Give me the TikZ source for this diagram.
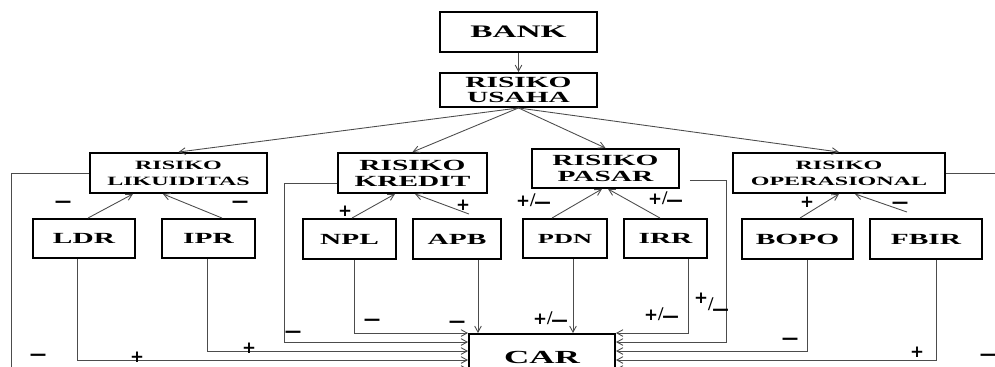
\documentclass[tikz,border=0pt]{standalone}
\usepackage{fontspec}
\setmainfont{Liberation Serif}
\newfontfamily\signfont{DejaVu Sans}
\usepackage{graphicx}
\usepackage{tikz}
\usetikzlibrary{arrows.meta,calc}
\newcommand{\wtxt}[1]{\scalebox{1.9}[1]{#1}}
\newcommand{\mns}{\scalebox{1.5}[1.6]{--}}
\newcommand{\pls}{{\signfont\bfseries\fontsize{9.5}{9.5}\selectfont +}}

\begin{document}
\begin{tikzpicture}[
  x=0.02cm, y=-0.02cm,
  box/.style={rectangle, draw, line width=1.1pt, inner sep=0pt, align=center, minimum height=0.78cm, font=\bfseries\fontsize{8.8}{9}\selectfont},
  smallbox/.style={box, minimum height=0.8cm, font=\bfseries\fontsize{7.2}{9}\selectfont},
  sign/.style={inner sep=0pt, font=\bfseries\fontsize{11}{11}\selectfont},
  arr/.style={-{Straight Barb[length=3.5pt,width=3.8pt]}, line width=0.5pt, black!70}
]
\useasboundingbox (0,0) rectangle (995,367);
\clip (0,0) rectangle (995,367);

% Top
\node[box, minimum width=3.14cm, minimum height=0.8cm, font=\bfseries\fontsize{10}{10}\selectfont] (bank) at (518.5,32) {\wtxt{BANK}};
\node[box, minimum width=3.14cm, minimum height=0.68cm] (usaha) at (518.5,90) {\wtxt{RISIKO}\\\wtxt{USAHA}};

% Risk types
\node[smallbox, minimum width=3.54cm] (lik) at (178.5,173) {\wtxt{RISIKO}\\\wtxt{LIKUIDITAS}};
\node[box, minimum width=2.98cm, minimum height=0.8cm] (kre) at (412.5,173) {\wtxt{RISIKO}\\\wtxt{KREDIT}};
\node[box, minimum width=2.94cm] (pas) at (605.5,168.5) {\wtxt{RISIKO}\\\wtxt{PASAR}};
\node[smallbox, minimum width=4.24cm] (ope) at (839,173) {\wtxt{RISIKO}\\\wtxt{OPERASIONAL}};

% Ratios
\node[box, minimum width=2.04cm] (ldr) at (84,238.5) {\wtxt{LDR}};
\node[box, minimum width=1.86cm] (ipr) at (208.5,238.5) {\wtxt{IPR}};
\node[box, minimum width=1.86cm, minimum height=0.8cm] (npl) at (349.5,239) {\wtxt{NPL}};
\node[box, minimum width=1.76cm, minimum height=0.8cm] (apb) at (457,239) {\wtxt{APB}};
\node[box, minimum width=1.68cm, font=\bfseries\fontsize{7.9}{9}\selectfont] (pdn) at (565,238.5) {\wtxt{PDN}};
\node[box, minimum width=1.66cm] (irr) at (665.5,238.5) {\wtxt{IRR}};
\node[box, minimum width=2.22cm, minimum height=0.8cm] (bopo) at (797.5,239) {\wtxt{BOPO}};
\node[box, minimum width=2.24cm, minimum height=0.8cm] (fbir) at (926,239) {\wtxt{FBIR}};

% CAR
\node[box, minimum width=2.92cm, minimum height=0.92cm, font=\bfseries\fontsize{10.5}{10.5}\selectfont] (car) at (542,357) {\wtxt{CAR}};

% Arrows top
\draw[arr] (bank) -- (usaha);
\draw[arr] (usaha.south) -- (lik.north);
\draw[arr] (usaha.south) -- (kre.north);
\draw[arr] (usaha.south) -- (pas.north);
\draw[arr] (usaha.south) -- (ope.north);

% Ratios to risk types
\draw[arr] ([xshift=0.08cm]ldr.north) -- ([xshift=-0.91cm]lik.south);
\draw[arr] ([xshift=0.27cm]ipr.north) -- ([xshift=-0.31cm]lik.south);
\draw[arr] ([xshift=0.05cm]npl.north) -- ([xshift=-0.35cm]kre.south);
\draw[arr] ([xshift=0.24cm,yshift=0.08cm]apb.north) -- ([xshift=0.05cm]kre.south);
\draw[arr] ([xshift=-0.26cm]pdn.north) -- ([xshift=-0.07cm]pas.south);
\draw[arr] ([xshift=-0.11cm]irr.north) -- ([xshift=0.05cm]pas.south);
\draw[arr] ([xshift=0.05cm]bopo.north) -- (ope.south);
\draw[arr] ([xshift=-0.38cm,yshift=0.12cm]fbir.north) -- ([xshift=0.32cm]ope.south);

\node[sign] (sldr) at (63,205) {\mns};
\node[sign] (sipr) at (240,205) {\mns};
\node[sign] (snpl) at (345,211) {\pls};
\node[sign] (sapb) at (463,205) {\pls};
\node[sign] (spdn) at (533,202) {\pls/\raisebox{-2pt}{\mns}};
\node[sign] (sirr) at (665,200) {\pls/\raisebox{-2pt}{\mns}};
\node[sign] (sbopo) at (807,202) {\pls};
\node[sign] (sfbir) at (900,206) {\mns};

% Everything to CAR
\draw[arr] (lik.west) -- ++(-78,0) |- ([yshift=-0.72cm]car.north west);
\draw[arr] ([xshift=-0.14cm]ldr.south) |- ([yshift=-0.54cm]car.north west);
\draw[arr] ([xshift=-0.03cm]ipr.south) |- ([yshift=-0.36cm]car.north west);
\draw[arr] ([yshift=-0.2cm]kre.west) -- ++(-53,0) |- ([yshift=-0.18cm]car.north west);
\draw[arr] ([xshift=0.09cm]npl.south) |- (car.north west);
\draw[arr] ([xshift=0.42cm]apb.south) -- ([xshift=0.42cm]apb.south |- car.north);
\draw[arr] ([xshift=0.16cm]pdn.south) -- ([xshift=0.16cm]pdn.south |- car.north);
\draw[arr] ([xshift=0.45cm]irr.south) |- (car.north east);
\draw[arr] ([xshift=0.2cm,yshift=-0.23cm]pas.east) -- ++(36,0) |- ([yshift=-0.18cm]car.north east);
\draw[arr] ([xshift=0.19cm]bopo.south) |- ([yshift=-0.36cm]car.north east);
\draw[arr] ([xshift=0.2cm]fbir.south) |- ([yshift=-0.54cm]car.north east);
\draw[arr] (ope.east) -- ++(69,0) |- ([yshift=-0.72cm]car.north east);

\node[sign] (clik) at (38,358) {\mns};
\node[sign] (cldr) at (137,357) {\pls};
\node[sign] (cipr) at (249,348) {\pls};
\node[sign] (ckre) at (293,335) {\mns};
\node[sign] (cnpl) at (372,323) {\mns};
\node[sign] (capb) at (457,325) {\mns};
\node[sign] (cpdn) at (550,320) {\pls/\raisebox{-2pt}{\mns}};
\node[sign] (cirr) at (661,316) {\pls/\raisebox{-2pt}{\mns}};
\node[sign] (cpas) at (711,305) {\raisebox{4pt}{\pls}/\raisebox{-4pt}{\mns}};
\node[sign] (cbopo) at (790,342) {\mns};
\node[sign] (cfbir) at (917,352) {\pls};
\node[sign] (cope) at (988,358) {\mns};

\end{tikzpicture}
\end{document}
